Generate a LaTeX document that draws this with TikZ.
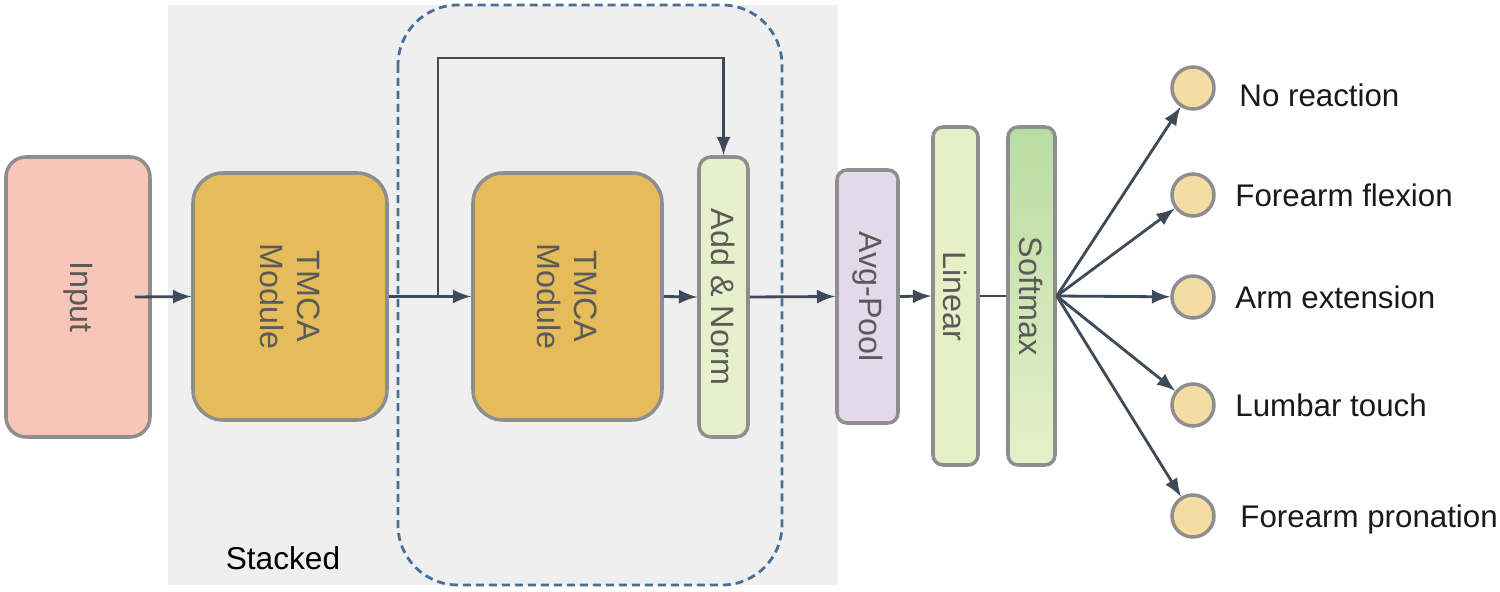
\documentclass[tikz,border=0pt]{standalone}
\usepackage{fontspec}
\setmainfont{Liberation Sans}
\usepackage{tikz}
\usetikzlibrary{positioning}
\usetikzlibrary{arrows}
\definecolor{bgGray}{HTML}{EFEFEF}
\definecolor{dashBlue}{HTML}{4A6F96}
\definecolor{edgeGray}{HTML}{8E8E8E}
\definecolor{arrowDark}{HTML}{3F4A58}
\definecolor{textGray}{HTML}{5A5A5A}
\definecolor{inputPink}{HTML}{F8C5B9}
\definecolor{tmcaGold}{HTML}{E6BC5B}
\definecolor{addGreen}{HTML}{E7F0CA}
\definecolor{poolLilac}{HTML}{E3D9EB}
\definecolor{linGreen}{HTML}{E6EFC6}
\definecolor{softTop}{HTML}{B9DCA3}
\definecolor{softBot}{HTML}{E6F0C9}
\definecolor{circFill}{HTML}{F5DCA4}
\tikzset{
	block/.style={draw=edgeGray, line width=1pt, rectangle, rotate=-90, align=center, text=textGray, inner sep=0pt, font=\fontsize{9.2}{10.5}\selectfont},
	arr/.style={-latex, draw=arrowDark, line width=0.8pt},
	outcircle/.style={circle, draw=edgeGray, line width=1pt, fill=circFill, minimum size=0.42cm, inner sep=0pt},
	outlabel/.style={inner sep=0pt, text=black!90, font=\fontsize{8.9}{10.5}\selectfont},
}
\begin{document}
\begin{tikzpicture}
		\useasboundingbox (0,0) rectangle (15,-5.92);
		\fill[bgGray] (1.68,-0.05) rectangle (8.38,-5.85);
		\node[text=black, font=\fontsize{9}{10.5}\selectfont] (stacked) at (2.83,-5.58) {Stacked};
		\draw[dashBlue, line width=0.8pt, dash pattern=on 0.08cm off 0.05cm, rounded corners=0.6cm] (3.98,-0.05) rectangle (7.82,-5.85);

		\node[block, fill=inputPink, rounded corners=0.2cm, minimum width=2.8cm, minimum height=1.44cm] (inp) at (0.78,-2.97) {Input};
		\node[block, fill=tmcaGold, rounded corners=0.3cm, minimum width=2.47cm, minimum height=1.94cm] (tmca1) at (2.90,-2.965) {TMCA\\Module};
		\node[block, fill=tmcaGold, rounded corners=0.3cm, minimum width=2.47cm, minimum height=1.89cm] (tmca2) at (5.675,-2.965) {TMCA\\Module};
		\node[block, fill=addGreen, rounded corners=0.12cm, minimum width=2.8cm, minimum height=0.49cm] (add) at (7.235,-2.97) {Add \& Norm};
		\node[block, fill=poolLilac, rounded corners=0.1cm, minimum width=2.53cm, minimum height=0.61cm] (pool) at (8.675,-2.965) {Avg-Pool};
		\node[block, fill=linGreen, rounded corners=0.1cm, minimum width=3.38cm, minimum height=0.45cm] (lin) at (9.555,-2.96) {Linear};
		\node[block, top color=softTop, bottom color=softBot, rounded corners=0.1cm, minimum width=3.38cm, minimum height=0.47cm] (soft) at (10.315,-2.96) {Softmax};

		\draw[arr] ([xshift=-0.17cm]inp.north) -- (tmca1.south);
		\coordinate (split) at (4.38,-2.97);
		\coordinate (skiptop) at (4.38,-0.58);
		\draw[arr] (tmca1.north) -- (tmca2.south);
		\draw[arr] (split) -- (skiptop) -| (add.west);
		\draw[arr] (tmca2.north) -- (add.south);
		\draw[arr] (add.north) -- (pool.south);
		\draw[arr] (pool.north) -- (lin.south);
		\draw[arrowDark, line width=0.8pt] (lin.north) -- (soft.south);

		\coordinate (fan) at (soft.north);
		\node[outcircle] (c1) at (11.93,-0.88) {};
		\node[outcircle] (c2) at (11.93,-1.95) {};
		\node[outcircle] (c3) at (11.93,-2.97) {};
		\node[outcircle] (c4) at (11.93,-4.05) {};
		\node[outcircle] (c5) at (11.93,-5.16) {};
		\node[outlabel, right=0.23cm of c1, yshift=-0.07cm] (l1) {No reaction};
		\node[outlabel, right=0.19cm of c2] (l2) {Forearm flexion};
		\node[outlabel, right=0.19cm of c3] (l3) {Arm extension};
		\node[outlabel, right=0.19cm of c4] (l4) {Lumbar touch};
		\node[outlabel, right=0.24cm of c5, yshift=-0.03cm] (l5) {Forearm pronation};
		\foreach \c in {c1,c2,c3,c4,c5}
			\draw[arr] (fan) -- (\c);
	\end{tikzpicture}
\end{document}
